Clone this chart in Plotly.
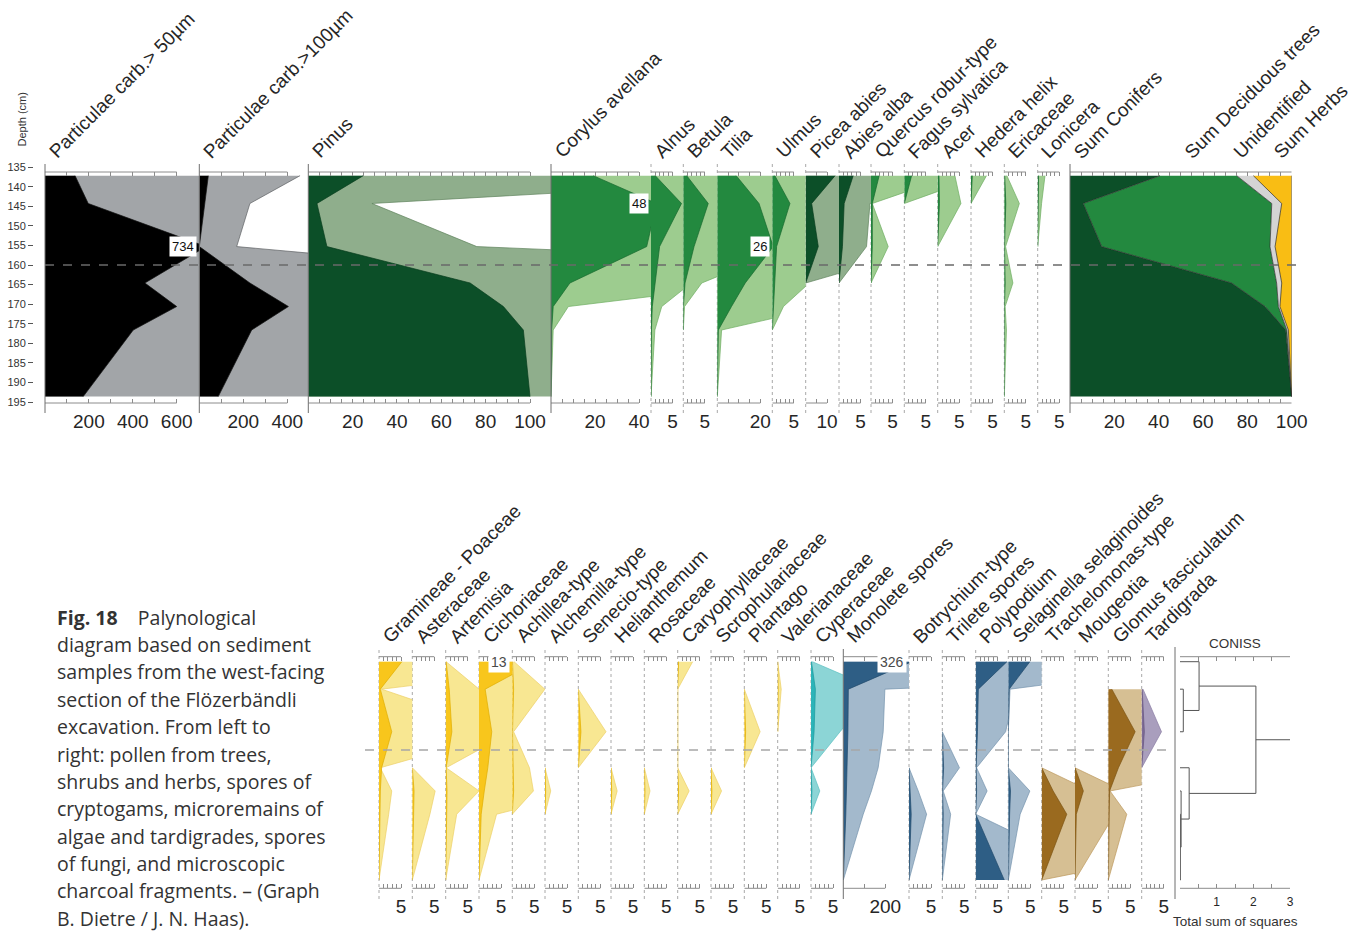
import plotly.graph_objects as go

# ---------------------------------------------------------------
# Sample depths (cm) shared by every curve
# ---------------------------------------------------------------
depths = [137.2, 144.3, 155.3, 164.6, 170.6, 176.6, 193.6]
zone_boundary_cm = 160

# ---------------- upper diagram: charcoal and tree/shrub pollen ----------------
# plain curve and its exaggeration curve (shown pale behind it)
charcoal_50 = [137, 197, 734, 455, 600, 402, 174]
charcoal_50_ex = [1500, 2000, 7500, 4600, 6000, 4100, 1800]
charcoal_100 = [41, 26, 0, 230, 405, 238, 86]
charcoal_100_ex = [458, 230, 170, 2000, 4000, 2400, 900]
pinus = [24.8, 3.9, 8.4, 73, 88, 97, 100]
pinus_ex = [250, 28.7, 76, 830, 880, 970, 1000]
corylus = [19.2, 48, 43.5, 8.6, 1.0, 0.3, 0]
corylus_ex = [200, 480, 435, 96, 7.9, 1.0, 0]
alnus = [1.0, 7.1, 2.0, 0.95, 0.3, 0.1, 0]
alnus_ex = [10, 71, 20, 9.5, 2.5, 0.9, 0]
betula = [0.8, 5.8, 2.5, 0.4, 0.03, 0, None]
betula_ex = [8, 58, 25, 4.3, 0.3, 0, None]
tilia = [8.8, 19.4, 26, 13, 6.6, 0.5, 0]
tilia_ex = [88, 194, 260, 130, 50, 2.0, 0]
ulmus = [0.6, 4.1, 1.0, 0.5, 0.3, 0, None]
ulmus_ex = [10, 41, 10, 8.6, 2.6, 0, None]
picea = [13.8, 2.8, 5.9, 0, None, None, None]
picea_ex = [138, 28, 59, 0, None, None, None]
abies = [3.3, 1.2, 0.8, 0, None, None, None]
abies_ex = [33, 7.2, 6.4, 0, None, None, None]
quercus = [1.9, 0.3, 0.3, 0, None, None, None]
quercus_ex = [19, 0.3, 4.0, 0, None, None, None]
fagus = [1.7, 0, None, None, None, None, None]
fagus_ex = [18, 0, None, None, None, None, None]
acer = [0.3, 0.4, 0, None, None, None, None]
acer_ex = [4.0, 5.4, 0, None, None, None, None]
hedera = [0.3, 0, None, None, None, None, None]
hedera_ex = [3.6, 0, None, None, None, None, None]
ericaceae = [0.1, 0.35, 0.05, 0.2, 0.03, 0.05, 0]
ericaceae_ex = [0.6, 3.5, 0.3, 2.0, 0.2, 0.5, 0]
lonicera = [0.2, 0.1, 0, None, None, None, None]
lonicera_ex = [1.7, 0.9, 0, None, None, None, None]

# summary curve (%)
sum_conifers = [40.6, 6.0, 14.3, 72.9, 88.0, 97.3, 100]
sum_deciduous = [34.6, 85.0, 75.9, 20.3, 6.0, 0.5, 0]
sum_unidentified = [7.5, 4.5, 2.3, 2.3, 0.7, 0.7, 0]
sum_herbs = [17.3, 4.5, 7.5, 4.5, 5.3, 1.5, 0]

# ---------------- lower diagram: herbs, spores, algae, fungi, tardigrades ----------------
gramineae = [5.2, 0.3, 2.9, 0.6, 0.3, 0.2, 0]
gramineae_ex = [52, 0.6, 29, 0.3, 2.9, 2.2, 0]
asteraceae = [None, None, None, 0, 0.4, 0.3, 0]
asteraceae_ex = [None, None, None, 0, 5.2, 4.0, 0]
artemisia = [0.1, 0.8, 1.4, 0.1, 0.3, 0.2, 0]
artemisia_ex = [0.1, 7.6, 15, 0.1, 7.6, 2.5, 0]
cichoriaceae = [13, 1.4, 2.9, 2.0, 1.2, 0.5, 0]
cichoriaceae_ex = [130, 14, 29, 20, 25, 4.0, 0]
achillea = [0.05, 0.3, 0.05, 0.2, 0.3, 0, None]
achillea_ex = [0.4, 7.4, 0.3, 3.9, 4.8, 0, None]
alchemilla = [None, None, None, 0, 0.15, 0, None]
alchemilla_ex = [None, None, None, 0, 1.3, 0, None]
senecio = [None, 0, 0.6, 0, None, None, None]
senecio_ex = [None, 0, 6.3, 0, None, None, None]
helianthemum = [None, None, None, 0, 0.15, 0, None]
helianthemum_ex = [None, None, None, 0, 1.4, 0, None]
rosaceae = [None, None, None, 0, 0.15, 0, None]
rosaceae_ex = [None, None, None, 0, 1.3, 0, None]
caryophyllaceae = [0.2, 0, 0, 0, 0.2, 0, None]
caryophyllaceae_ex = [3.4, 0, 0, 0, 2.6, 0, None]
scrophulariaceae = [None, None, None, 0, 0.2, 0, None]
scrophulariaceae_ex = [None, None, None, 0, 2.4, 0, None]
plantago = [None, 0, 0.3, 0, None, None, None]
plantago_ex = [None, 0, 3.6, 0, None, None, None]
valerianaceae = [0, 0.1, 0, None, None, None, None]
valerianaceae_ex = [0, 0.8, 0, None, None, None, None]
cyperaceae = [0.1, 1.0, 0.7, 0, 0.2, 0, None]
cyperaceae_ex = [0.3, 14.8, 6.6, 0, 2.0, 0, None]
monolete = [326, 24, 22, 19, 16, 12, 0]
monolete_ex = [3260, 198, 190, 166, 134, 95, 0]
botrychium = [None, None, None, 0, 0.3, 0.5, 0]
botrychium_ex = [None, None, None, 0, 2.1, 4.0, 0]
trilete = [None, None, 0, 0.3, 0.05, 0.2, 0]
trilete_ex = [None, None, 0, 3.9, 0.2, 1.9, 0]
polypodium = [7.1, 0.6, 0.4, 0.1, 0.2, 0, 6.5]
polypodium_ex = [71, 9, 6.8, 0.2, 2.6, 0, 31]
selaginella = [4.9, 0.2, 0, 0, 0.5, 0.3, 0]
selaginella_ex = [49, 0.4, 0, 0, 4.9, 2.7, 0]
trachelomonas = [None, None, None, 0, 2.6, 5.7, 0]
trachelomonas_ex = [None, None, None, 0, 11, 75, 0]
mougeotia = [None, None, None, 0, 1.9, 0.3, 0]
mougeotia_ex = [None, None, None, 0, 11, 9, 0]
glomus = [None, 0.8, 6.1, 2.3, 0.3, 0.2, 0]
glomus_ex = [None, 40, 30, 28, 0.4, 4.2, 0]
tardigrada = [None, 0.1, 0.6, 0, None, None, None]
tardigrada_ex = [None, 0.3, 4.5, 0, None, None, None]

# CONISS agglomeration steps: (member a, member b, total sum of squares);
# members 0..6 are samples, 7.. are the clusters formed by earlier steps
coniss_merges = [(1, 2, 0.09), (0, 7, 0.52), (5, 6, 0.01), (4, 9, 0.03), (3, 10, 0.25), (8, 11, 2.07)]
coniss_max = 3

caption_lines = [
    "<b>Fig. 18</b>\u00a0\u00a0\u00a0 Palynological",
    "diagram based on sediment",
    "samples from the west-facing",
    "section of the Flözerbändli",
    "excavation. From left to",
    "right: pollen from trees,",
    "shrubs and herbs, spores of",
    "cryptogams, microremains of",
    "algae and tardigrades, spores",
    "of fungi, and microscopic",
    "charcoal fragments. – (Graph",
    "B. Dietre / J. N. Haas).",
]

# ---------------------------------------------------------------
# Styling and page geometry
# ---------------------------------------------------------------
W, H = 1361, 932
FONT = "Liberation Sans, Arial, Helvetica, sans-serif"
CAPTION_FONT = "Open Sans, Noto Sans, sans-serif"
TEXT_C = "#262626"
AXIS_C = "#8c8c8c"

# palette: (main fill, exaggeration fill, main outline, exaggeration outline)
PALETTES = {
    "charcoal": ("#000000", "#a2a5a8", "#111111", "#5e6164"),
    "conifer": ("#0c4f28", "#8fae8c", "#083d1e", "#5f825c"),
    "deciduous": ("#23893f", "#9dcc8f", "#17692e", "#6fae62"),
    "herb": ("#f8c61c", "#f8e792", "#e0ad00", "#ecd068"),
    "sedge": ("#2db4b8", "#8cd5d6", "#1c9a9e", "#5cc0c2"),
    "spore": ("#2e5e85", "#a3b9cc", "#234b6c", "#7593ad"),
    "alga": ("#9a6a1f", "#d6bf93", "#7d5514", "#bd9a5f"),
    "tardigrade": ("#7e6c96", "#a99ebd", "#66557e", "#8a7ca3"),
}

def fx(px):
    return px / W

def fy(py):
    return 1 - py / H

TOP = dict(y="y", top=172, bottom=403, yrange=[195.23, 136.26], line_top=164, line_bot=413)
LOW = dict(y="y2", top=656.7, bottom=888.3, yrange=[195.74, 135.91], line_top=649, line_bot=899)

# label, values, exaggeration, palette, left px, right px, px per unit, tick step, last tick, labelled ticks, edge style
top_panels = [
    ("Particulae carb.> 50µm", charcoal_50, charcoal_50_ex, "charcoal", 45, 199.3, 0.2195, 100, 600, (200, 400, 600), "solid"),
    ("Particulae carb.>100µm", charcoal_100, charcoal_100_ex, "charcoal", 199.3, 308.3, 0.22, 100, 400, (200, 400), "solid"),
    ("Pinus", pinus, pinus_ex, "conifer", 308.3, 551, 2.217, 5, 100, (20, 40, 60, 80, 100), "solid"),
    ("Corylus avellana", corylus, corylus_ex, "deciduous", 551, 651, 2.2, 5, 40, (20, 40), "solid"),
    ("Alnus", alnus, alnus_ex, "deciduous", 651, 683.3, 4.3, 1, 5, (5,), "dot"),
    ("Betula", betula, betula_ex, "deciduous", 683.3, 717.3, 4.3, 1, 5, (5,), "dot"),
    ("Tilia", tilia, tilia_ex, "deciduous", 717.3, 772.3, 2.15, 5, 20, (20,), "dot"),
    ("Ulmus", ulmus, ulmus_ex, "deciduous", 772.3, 805.7, 4.3, 1, 5, (5,), "dot"),
    ("Picea abies", picea, picea_ex, "conifer", 805.7, 839, 2.13, 5, 10, (10,), "dot"),
    ("Abies alba", abies, abies_ex, "conifer", 839, 871, 4.3, 1, 5, (5,), "dot"),
    ("Quercus robur-type", quercus, quercus_ex, "deciduous", 871, 904.3, 4.3, 1, 5, (5,), "dot"),
    ("Fagus sylvatica", fagus, fagus_ex, "deciduous", 904.3, 937.7, 4.3, 1, 5, (5,), "dot"),
    ("Acer", acer, acer_ex, "deciduous", 937.7, 971, 4.3, 1, 5, (5,), "dot"),
    ("Hedera helix", hedera, hedera_ex, "deciduous", 971, 1004.3, 4.3, 1, 5, (5,), "dot"),
    ("Ericaceae", ericaceae, ericaceae_ex, "deciduous", 1004.3, 1037.7, 4.3, 1, 5, (5,), "dot"),
    ("Lonicera", lonicera, lonicera_ex, "deciduous", 1037.7, 1070, 4.3, 1, 5, (5,), "dot"),
]

low_series = [
    ("Gramineae - Poaceae", gramineae, gramineae_ex, "herb"),
    ("Asteraceae", asteraceae, asteraceae_ex, "herb"),
    ("Artemisia", artemisia, artemisia_ex, "herb"),
    ("Cichoriaceae", cichoriaceae, cichoriaceae_ex, "herb"),
    ("Achillea-type", achillea, achillea_ex, "herb"),
    ("Alchemilla-type", alchemilla, alchemilla_ex, "herb"),
    ("Senecio-type", senecio, senecio_ex, "herb"),
    ("Helianthemum", helianthemum, helianthemum_ex, "herb"),
    ("Rosaceae", rosaceae, rosaceae_ex, "herb"),
    ("Caryophyllaceae", caryophyllaceae, caryophyllaceae_ex, "herb"),
    ("Scrophulariaceae", scrophulariaceae, scrophulariaceae_ex, "herb"),
    ("Plantago", plantago, plantago_ex, "herb"),
    ("Valerianaceae", valerianaceae, valerianaceae_ex, "herb"),
    ("Cyperaceae", cyperaceae, cyperaceae_ex, "sedge"),
    ("Monolete spores", monolete, monolete_ex, "spore"),
    ("Botrychium-type", botrychium, botrychium_ex, "spore"),
    ("Trilete spores", trilete, trilete_ex, "spore"),
    ("Polypodium", polypodium, polypodium_ex, "spore"),
    ("Selaginella selaginoides", selaginella, selaginella_ex, "spore"),
    ("Trachelomonas-type", trachelomonas, trachelomonas_ex, "alga"),
    ("Mougeotia", mougeotia, mougeotia_ex, "alga"),
    ("Glomus fasciculatum", glomus, glomus_ex, "alga"),
    ("Tardigrada", tardigrada, tardigrada_ex, "tardigrade"),
]
low_edges = [379, 412.3, 445.7, 479, 512.3, 545, 578.3, 611, 644.3, 677.7, 711, 744.3,
             777.7, 811, 843.3, 909, 942.3, 975.7, 1008.3, 1041.7, 1075, 1108.3, 1141.7, 1175]
low_panels = []
for i, (name, vals, ex, pal) in enumerate(low_series):
    if name == "Monolete spores":
        scale = dict(ppu=0.21, step=100, last=200, labelled=(200,), edge="solid")
    else:
        scale = dict(ppu=4.4, step=1, last=5, labelled=(5,), edge="dot")
    low_panels.append((name, vals, ex, pal, low_edges[i], low_edges[i + 1],
                       scale["ppu"], scale["step"], scale["last"], scale["labelled"], scale["edge"]))

fig = go.Figure()
layout = {}
shapes = []
annotations = []
n_x = [0]


def fmt(v):
    return str(int(v)) if float(v).is_integer() else str(v)


def add_xaxis(block, left, right, xmax, step, last, labelled, size=19):
    n_x[0] += 1
    k = n_x[0]
    name = "xaxis" if k == 1 else f"xaxis{k}"
    ref = "x" if k == 1 else f"x{k}"
    nticks = int(round(last / step))
    vals = [round(j * step, 6) for j in range(nticks + 1)]
    text = [fmt(v) if v in labelled else "" for v in vals]
    layout[name] = dict(
        domain=[fx(left), fx(right)], range=[0, xmax], anchor=block["y"],
        showgrid=False, zeroline=False, showline=False, automargin=False,
        ticks="inside", ticklen=4, tickwidth=1, tickcolor=AXIS_C, mirror="ticks",
        tickmode="array", tickvals=vals, ticktext=text, ticklabelstandoff=5,
        tickfont=dict(family=FONT, size=size, color=TEXT_C), fixedrange=True,
    )
    for yv in (0, 1):
        shapes.append(dict(type="line", xref=ref, yref=f"{block['y']} domain",
                           x0=0, x1=last, y0=yv, y1=yv, line=dict(color=AXIS_C, width=1)))
    return ref


def edge_line(block, ref, style):
    shapes.append(dict(
        type="line", xref=f"{ref} domain", x0=0, x1=0, yref="paper",
        y0=fy(block["line_bot"]), y1=fy(block["line_top"]),
        line=dict(color="#6f6f6f" if style == "solid" else "#a8a8a8", width=1,
                  dash="solid" if style == "solid" else "dot"),
        layer="above" if style == "solid" else "below",
    ))


def name_label(block, ref, text, x=0, xref_kind="domain"):
    annotations.append(dict(
        text=text, textangle=-45, showarrow=False,
        xref=f"{ref} domain" if xref_kind == "domain" else ref, x=x, xanchor="left",
        yref=f"{block['y']} domain", y=1, yanchor="bottom", xshift=-3, yshift=7,
        font=dict(family=FONT, size=19, color=TEXT_C),
    ))


def add_panel(block, spec, value_font):
    label, vals, ex, pal, left, right, ppu, step, last, labelled, edge = spec
    xmax = (right - left) / ppu
    ref = add_xaxis(block, left, right, xmax, step, last, labelled)
    main_c, ex_c, main_l, ex_l = PALETTES[pal]
    fig.add_trace(go.Scatter(x=ex, y=depths, xaxis=ref, yaxis=block["y"], mode="lines",
                             fill="tozerox", fillcolor=ex_c, line=dict(color=ex_l, width=0.7),
                             hoverinfo="skip", showlegend=False))
    fig.add_trace(go.Scatter(x=vals, y=depths, xaxis=ref, yaxis=block["y"], mode="lines",
                             fill="tozerox", fillcolor=main_c, line=dict(color=main_l, width=0.7),
                             hoverinfo="skip", showlegend=False))
    # values running past the panel edge are written out
    for d, v in zip(depths, vals):
        if v is not None and v > xmax:
            annotations.append(dict(text=fmt(v), showarrow=False, xref=f"{ref} domain", x=1,
                                    xanchor="right", xshift=-2, yref=block["y"], y=d,
                                    yanchor="middle", bgcolor="white", borderpad=2,
                                    font=value_font))
    edge_line(block, ref, edge)
    name_label(block, ref, label)
    return ref


top_value_font = dict(family=FONT, size=13, color="#111111")
low_value_font = dict(family=FONT, size=14, color="#4a4a4a")

for spec in top_panels:
    add_panel(TOP, spec, top_value_font)

# stacked summary panel
sum_ref = add_xaxis(TOP, 1070, 1291.7, 100, 5, 100, (20, 40, 60, 80, 100))
sum_series = [("Sum Conifers", sum_conifers, "#0c4f28", 0),
              ("Sum Deciduous trees", sum_deciduous, "#23893f", 50),
              ("Unidentified", sum_unidentified, "#d4d4d4", 72),
              ("Sum Herbs", sum_herbs, "#f9bd14", 90)]
for name, vals, col, at in sum_series:
    fig.add_trace(go.Scatter(x=vals, y=depths, xaxis=sum_ref, yaxis="y", mode="lines",
                             stackgroup="sum", orientation="h", fillcolor=col,
                             line=dict(color="#2a2a2a", width=0.7),
                             hoverinfo="skip", showlegend=False))
    name_label(TOP, sum_ref, name, x=at, xref_kind="data")
edge_line(TOP, sum_ref, "solid")

for spec in low_panels:
    add_panel(LOW, spec, low_value_font)

# CONISS dendrogram
con_ref = add_xaxis(LOW, 1180, 1290, coniss_max, 0.5, coniss_max, (1, 2, 3), size=12)
node = {i: (0.0, d) for i, d in enumerate(depths)}
dx, dy = [], []
for k, (a, b, h) in enumerate(coniss_merges):
    ha, ya = node[a]
    hb, yb = node[b]
    dx += [ha, h, h, hb, None]
    dy += [ya, ya, yb, yb, None]
    node[len(depths) + k] = (h, (ya + yb) / 2)
root_h, root_y = node[len(depths) + len(coniss_merges) - 1]
dx += [root_h, coniss_max]
dy += [root_y, root_y]
fig.add_trace(go.Scatter(x=dx, y=dy, xaxis=con_ref, yaxis="y2", mode="lines",
                         line=dict(color="#555555", width=1), hoverinfo="skip", showlegend=False))
shapes.append(dict(type="line", xref="paper", yref="paper", x0=fx(1175), x1=fx(1175),
                   y0=fy(899), y1=fy(647), line=dict(color="#6f6f6f", width=1)))
annotations.append(dict(text="CONISS", showarrow=False, xref=f"{con_ref} domain", x=0.5,
                        yref="paper", y=fy(643.5), xanchor="center", yanchor="middle",
                        font=dict(family=FONT, size=13.5, color="#333333")))
annotations.append(dict(text="Total sum of squares", showarrow=False, xref=f"{con_ref} domain", x=0.5,
                        yref="paper", y=fy(921.5), xanchor="center", yanchor="middle",
                        font=dict(family=FONT, size=13.5, color="#333333")))

# depth scale of the upper diagram
layout["yaxis3"] = dict(domain=[fy(402.1), fy(167.1)], range=[195, 135], anchor="free",
                        position=fx(33), side="left", tickmode="array", automargin=False,
                        tickvals=list(range(135, 200, 5)), ticks="outside", ticklen=5,
                        tickcolor="#555555", showline=False, showgrid=False, zeroline=False,
                        tickfont=dict(family=FONT, size=11, color="#333333"), fixedrange=True)
fig.add_trace(go.Scatter(x=[0] * len(depths), y=depths, xaxis="x", yaxis="y3", mode="markers",
                         marker=dict(opacity=0), hoverinfo="skip", showlegend=False))
annotations.append(dict(text="Depth (cm)", textangle=-90, showarrow=False, xref="paper", yref="paper",
                        x=fx(21), y=fy(119.5), xanchor="center", yanchor="middle",
                        font=dict(family=FONT, size=11, color="#333333")))

layout["yaxis"] = dict(domain=[fy(TOP["bottom"]), fy(TOP["top"])], range=TOP["yrange"],
                       anchor="x", showgrid=False, zeroline=False, showticklabels=False,
                       ticks="", showline=False, fixedrange=True, automargin=False)
layout["yaxis2"] = dict(domain=[fy(LOW["bottom"]), fy(LOW["top"])], range=LOW["yrange"],
                        anchor=f"x{len(top_panels) + 2}", showgrid=False, zeroline=False,
                        showticklabels=False, ticks="", showline=False, fixedrange=True,
                        automargin=False)

# zone boundary
shapes.append(dict(type="line", xref="paper", x0=fx(45), x1=fx(1300), yref="y",
                   y0=zone_boundary_cm, y1=zone_boundary_cm,
                   line=dict(color="#6a6a6a", width=1.5, dash="dash"), layer="above"))
shapes.append(dict(type="line", xref="paper", x0=fx(365), x1=fx(1173), yref="y2",
                   y0=zone_boundary_cm, y1=zone_boundary_cm,
                   line=dict(color="#a6a6a6", width=1.5, dash="dash"), layer="above"))

# caption
for i, line in enumerate(caption_lines):
    annotations.append(dict(text=line, showarrow=False, xref="paper", yref="paper",
                            x=fx(55), y=fy(617.3 + i * 27.34), xanchor="left", yanchor="middle",
                            font=dict(family=CAPTION_FONT, size=19.5, color="#333333")))

fig.update_layout(
    width=W, height=H, autosize=False,
    margin=dict(l=0, r=0, t=0, b=0, pad=0, autoexpand=False),
    paper_bgcolor="white", plot_bgcolor="rgba(0,0,0,0)",
    showlegend=False, hovermode=False,
    shapes=shapes, annotations=annotations,
    **layout,
)

fig.write_html("out.html")
